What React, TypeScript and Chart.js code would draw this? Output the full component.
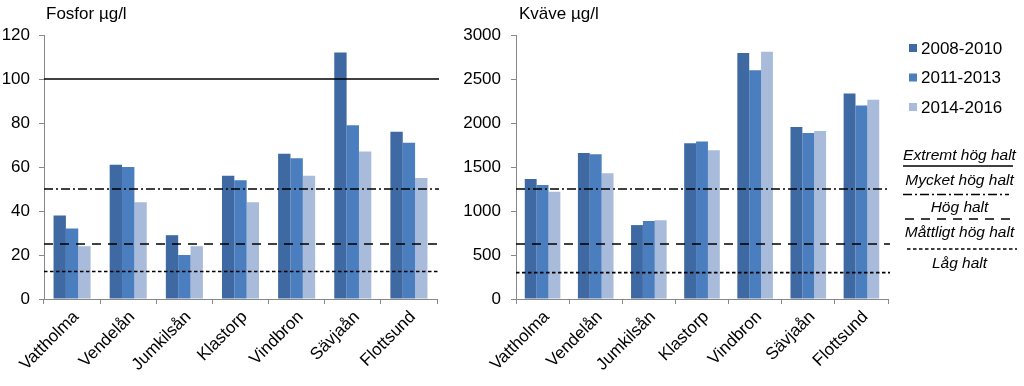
import React, { useEffect, useRef } from 'react';
import { Chart, registerables } from 'chart.js';

Chart.register(...registerables);

const categories = ['Vattholma', 'Vendelån', 'Jumkilsån', 'Klastorp', 'Vindbron', 'Sävjaån', 'Flottsund'];
const seriesLabels = ['2008-2010', '2011-2013', '2014-2016'];
const seriesColors = ['#3F69A2', '#4A7EBF', '#A8BBDA'];

const fosfor2008 = [38, 61, 29, 56, 66, 112, 76];
const fosfor2011 = [32, 60, 20, 54, 64, 79, 71];
const fosfor2014 = [24, 44, 24, 44, 56, 67, 55];

const kvave2008 = [1365, 1660, 840, 1770, 2795, 1955, 2335];
const kvave2011 = [1295, 1645, 885, 1790, 2600, 1885, 2200];
const kvave2014 = [1220, 1430, 895, 1690, 2810, 1910, 2265];

const fosforLimits = [100, 50, 25, 12.5];
const fosforLimitStyles = ['solid', 'dashdot', 'dash', 'dot'];
const kvaveLimits = [1250, 625, 300];
const kvaveLimitStyles = ['dashdot', 'dash', 'dot'];

const classLabels = ['Extremt hög halt', 'Mycket hög halt', 'Hög halt', 'Måttligt hög halt', 'Låg halt'];
const classLineStyles = ['solid', 'dashdot', 'dash', 'dot'];

const FONT = '"Liberation Sans", Arial, sans-serif';
const DASHES: Record<string, number[]> = {
  solid: [],
  dashdot: [9, 3, 2, 3],
  dash: [9, 7],
  dot: [3.5, 2.5],
};

function overlayPlugin(title: string, titleX: number, limits: number[], styles: string[], withLegend: boolean) {
  return {
    id: 'overlay',
    afterDatasetsDraw(chart: any) {
      const { ctx, chartArea, scales } = chart;
      const y = scales.y;
      ctx.save();
      ctx.strokeStyle = '#000';
      ctx.lineWidth = 1.6;
      limits.forEach((v, i) => {
        const py = y.getPixelForValue(v);
        ctx.setLineDash(DASHES[styles[i]]);
        ctx.beginPath();
        ctx.moveTo(chartArea.left, py);
        ctx.lineTo(chartArea.right + 2, py);
        ctx.stroke();
      });
      ctx.restore();
    },
    afterDraw(chart: any) {
      const { ctx } = chart;
      ctx.save();
      ctx.fillStyle = '#000';
      ctx.font = `17px ${FONT}`;
      ctx.textAlign = 'left';
      ctx.textBaseline = 'middle';
      ctx.fillText(title, titleX, 14);
      if (withLegend) {
        const legY = [48, 77.5, 107];
        seriesLabels.forEach((lab, i) => {
          ctx.fillStyle = seriesColors[i];
          ctx.fillRect(459, legY[i] - 4, 8, 8);
          ctx.fillStyle = '#000';
          ctx.font = `17px ${FONT}`;
          ctx.textAlign = 'left';
          ctx.fillText(lab, 471, legY[i] + 1);
        });
        const cx = 509.5;
        const textY = [156, 180.5, 207.5, 232.5, 264];
        ctx.font = `italic 15.5px ${FONT}`;
        ctx.textAlign = 'center';
        classLabels.forEach((lab, i) => {
          ctx.fillText(lab, cx, textY[i]);
        });
        const lines = [
          { y: 166, x1: 453, x2: 563 },
          { y: 194.5, x1: 453, x2: 559 },
          { y: 219, x1: 455, x2: 560 },
          { y: 249, x1: 457, x2: 567 },
        ];
        ctx.strokeStyle = '#000';
        ctx.lineWidth = 1.3;
        lines.forEach((l, i) => {
          ctx.setLineDash(DASHES[classLineStyles[i]]);
          ctx.beginPath();
          ctx.moveTo(l.x1, l.y);
          ctx.lineTo(l.x2, l.y);
          ctx.stroke();
        });
      }
      ctx.restore();
    },
  };
}

function makeConfig(
  data: number[][],
  max: number,
  step: number,
  labelStep: number,
  yWidth: number,
  rightPad: number,
  catPct: number,
  tickPad: number,
  plugin: any
) {
  return {
    type: 'bar' as const,
    data: {
      labels: categories,
      datasets: data.map((d, i) => ({
        label: seriesLabels[i],
        data: d,
        backgroundColor: seriesColors[i],
        borderWidth: 0,
        barPercentage: 1,
        categoryPercentage: catPct,
      })),
    },
    options: {
      responsive: false,
      animation: false,
      devicePixelRatio: 1,
      layout: { padding: { left: 0, right: rightPad, top: 35, bottom: 0 } },
      plugins: { legend: { display: false }, tooltip: { enabled: false }, title: { display: false } },
      scales: {
        x: {
          grid: { display: true, offset: true, drawOnChartArea: false, drawTicks: true, tickLength: 5, color: '#888' },
          border: { display: true, color: '#888', width: 1 },
          ticks: {
            autoSkip: false,
            minRotation: 45,
            maxRotation: 45,
            padding: 3,
            labelOffset: 4,
            color: '#000',
            font: { family: FONT, size: 17 },
          },
          afterFit: (s: any) => {
            s.height = 87;
          },
        },
        y: {
          min: 0,
          max: max,
          grid: { display: true, drawOnChartArea: false, drawTicks: true, tickLength: 5, color: '#888' },
          border: { display: true, color: '#888', width: 1 },
          ticks: {
            stepSize: step,
            padding: tickPad,
            color: '#000',
            font: { family: FONT, size: 17 },
            callback: (v: number) => (v % labelStep === 0 ? String(v) : ''),
          },
          afterFit: (s: any) => {
            s.width = yWidth;
          },
        },
      },
    },
    plugins: [plugin],
  };
}

export default function App() {
  const leftRef = useRef<HTMLCanvasElement>(null);
  const rightRef = useRef<HTMLCanvasElement>(null);

  useEffect(() => {
    const left = new Chart(
      leftRef.current!,
      makeConfig(
        [fosfor2008, fosfor2011, fosfor2014],
        120,
        10,
        20,
        44,
        13,
        0.66,
        9,
        overlayPlugin('Fosfor µg/l', 46, fosforLimits, fosforLimitStyles, false)
      ) as any
    );
    const right = new Chart(
      rightRef.current!,
      makeConfig(
        [kvave2008, kvave2011, kvave2014],
        3000,
        250,
        500,
        66,
        136,
        0.67,
        10,
        overlayPlugin('Kväve µg/l', 69, kvaveLimits, kvaveLimitStyles, true)
      ) as any
    );
    return () => {
      left.destroy();
      right.destroy();
    };
  }, []);

  return (
    <div style={{ position: 'fixed', left: 0, top: 0, width: 1024, height: 386, background: '#fff' }}>
      <canvas ref={leftRef} width={450} height={386} style={{ position: 'absolute', left: 0, top: 0, width: 450, height: 386 }} />
      <canvas ref={rightRef} width={574} height={386} style={{ position: 'absolute', left: 450, top: 0, width: 574, height: 386 }} />
    </div>
  );
}
